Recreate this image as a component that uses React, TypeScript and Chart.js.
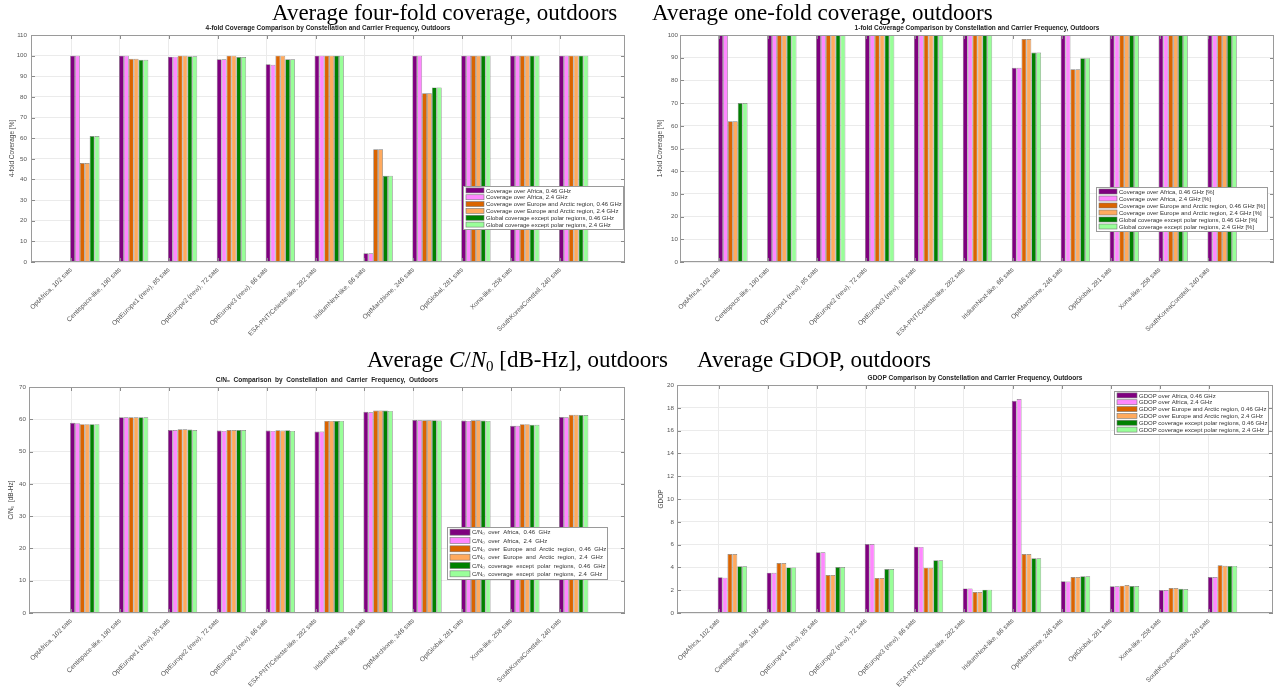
import React, { useEffect, useRef } from "react";
import { Chart, registerables } from "chart.js";

Chart.register(...registerables);

const FONT = "'Liberation Sans', Arial, Helvetica, sans-serif";
Chart.defaults.font.family = FONT;

// ---------------- data ----------------
const constellations = [
  "OptAfrica, 102 sats",
  "Centispace-like, 190 sats",
  "OptEurope1 (new), 85 sats",
  "OptEurope2 (new), 72 sats",
  "OptEurope3 (new), 66 sats",
  "ESA-PNT/Celeste-like, 282 sats",
  "IridiumNext-like, 66 sats",
  "OptMarchione, 246 sats",
  "OptGlobal, 281 sats",
  "Xona-like, 258 sats",
  "SouthKoreaConstell, 240 sats",
];

const seriesColors = ["#800080", "#FF88FF", "#DA6400", "#FFAA5E", "#008000", "#99FF99"];

// 4-fold coverage [%]
const fourAfrica046 = [100, 100, 99.5, 98.2, 95.8, 100, 4.2, 100, 100, 100, 100];
const fourAfrica24 = [100, 100, 99.5, 98.2, 95.6, 100, 4.2, 100, 100, 100, 100];
const fourEurope046 = [48, 98.5, 100, 100, 100, 100, 54.6, 81.8, 100, 100, 100];
const fourEurope24 = [48, 98.5, 100, 100, 100, 100, 54.6, 81.8, 100, 100, 100];
const fourGlobal046 = [61, 98, 99.7, 99.3, 98.2, 100, 41.8, 84.6, 100, 100, 100];
const fourGlobal24 = [61, 98, 99.7, 99.3, 98.2, 100, 41.8, 84.6, 100, 100, 100];

// 1-fold coverage [%]
const oneAfrica046 = [100, 100, 100, 100, 100, 100, 85.6, 100, 100, 100, 100];
const oneAfrica24 = [100, 100, 100, 100, 100, 100, 85.6, 100, 100, 100, 100];
const oneEurope046 = [62, 100, 100, 100, 100, 100, 98.2, 84.9, 100, 100, 100];
const oneEurope24 = [62, 100, 100, 100, 100, 100, 98.2, 84.9, 100, 100, 100];
const oneGlobal046 = [70, 100, 100, 100, 100, 100, 92.3, 89.8, 100, 100, 100];
const oneGlobal24 = [70, 100, 100, 100, 100, 100, 92.3, 89.8, 100, 100, 100];

// C/N0 [dB-Hz]
const cnAfrica046 = [58.9, 60.6, 56.7, 56.5, 56.5, 56.2, 62.3, 59.8, 59.6, 58.0, 60.7];
const cnAfrica24 = [58.8, 60.6, 56.7, 56.4, 56.4, 56.2, 62.2, 59.7, 59.5, 58.0, 60.6];
const cnEurope046 = [58.5, 60.6, 56.9, 56.7, 56.6, 59.5, 62.7, 59.7, 59.7, 58.5, 61.4];
const cnEurope24 = [58.5, 60.6, 56.9, 56.7, 56.5, 59.5, 62.7, 59.7, 59.7, 58.5, 61.4];
const cnGlobal046 = [58.5, 60.6, 56.8, 56.7, 56.6, 59.5, 62.7, 59.7, 59.6, 58.3, 61.3];
const cnGlobal24 = [58.5, 60.6, 56.7, 56.7, 56.4, 59.5, 62.6, 59.6, 59.5, 58.3, 61.3];

// GDOP
const gdAfrica046 = [3.13, 3.54, 5.32, 6.05, 5.82, 2.16, 18.62, 2.78, 2.34, 2.02, 3.16];
const gdAfrica24 = [3.1, 3.52, 5.32, 6.05, 5.8, 2.16, 18.77, 2.76, 2.34, 2.02, 3.16];
const gdEurope046 = [5.18, 4.39, 3.33, 3.07, 3.98, 1.84, 5.18, 3.16, 2.4, 2.19, 4.18];
const gdEurope24 = [5.18, 4.39, 3.33, 3.07, 3.96, 1.84, 5.18, 3.16, 2.46, 2.19, 4.15];
const gdGlobal046 = [4.1, 4.0, 4.03, 3.86, 4.62, 2.05, 4.8, 3.22, 2.37, 2.13, 4.12];
const gdGlobal24 = [4.1, 4.0, 4.03, 3.86, 4.62, 2.05, 4.8, 3.22, 2.37, 2.11, 4.13];

const fourLabels = [
  "Coverage over Africa, 0.46 GHz",
  "Coverage over Africa, 2.4 GHz",
  "Coverage over Europe and Arctic region, 0.46 GHz",
  "Coverage over Europe and Arctic region, 2.4 GHz",
  "Global coverage except polar regions, 0.46 GHz",
  "Global coverage except polar regions, 2.4 GHz",
];
const oneLabels = [
  "Coverage over Africa, 0.46 GHz [%]",
  "Coverage over Africa, 2.4 GHz [%]",
  "Coverage over Europe and Arctic region, 0.46 GHz [%]",
  "Coverage over Europe and Arctic region, 2.4 GHz [%]",
  "Global coverage except polar regions, 0.46 GHz [%]",
  "Global coverage except polar regions, 2.4 GHz [%]",
];
const cnLabels = [
  "C/N\u2080  over  Africa,  0.46  GHz",
  "C/N\u2080  over  Africa,  2.4  GHz",
  "C/N\u2080  over  Europe  and  Arctic  region,  0.46  GHz",
  "C/N\u2080  over  Europe  and  Arctic  region,  2.4  GHz",
  "C/N\u2080  coverage  except  polar  regions,  0.46  GHz",
  "C/N\u2080  coverage  except  polar  regions,  2.4  GHz",
];
const gdLabels = [
  "GDOP over Africa, 0.46 GHz",
  "GDOP over Africa, 2.4 GHz",
  "GDOP over Europe and Arctic region, 0.46 GHz",
  "GDOP over Europe and Arctic region, 2.4 GHz",
  "GDOP coverage except polar regions, 0.46 GHz",
  "GDOP coverage except polar regions, 2.4 GHz",
];

// ---------------- plugins ----------------
const framePlugin = {
  id: "frame",
  afterDatasetsDraw(chart: any) {
    const { ctx, chartArea: a, scales } = chart;
    ctx.save();
    ctx.strokeStyle = "#8a8a8a";
    ctx.lineWidth = 1;
    ctx.beginPath();
    const xs = scales.x;
    for (let i = 0; i < xs.ticks.length; i++) {
      const px = Math.round(xs.getPixelForTick(i)) + 0.5;
      ctx.moveTo(px, a.bottom);
      ctx.lineTo(px, a.bottom - 4);
      ctx.moveTo(px, a.top);
      ctx.lineTo(px, a.top + 4);
    }
    const ys = scales.y;
    for (let j = 0; j < ys.ticks.length; j++) {
      const py = Math.round(ys.getPixelForTick(j)) + 0.5;
      ctx.moveTo(a.left, py);
      ctx.lineTo(a.left + 4, py);
      ctx.moveTo(a.right, py);
      ctx.lineTo(a.right - 4, py);
    }
    ctx.stroke();
    ctx.strokeStyle = "#9a9a9a";
    ctx.strokeRect(Math.round(a.left) + 0.5, Math.round(a.top) + 0.5, Math.round(a.right - a.left) - 1, Math.round(a.bottom - a.top) - 1);
    ctx.restore();
  },
  afterDraw(chart: any, _args: any, opts: any) {
    const { ctx, chartArea: a } = chart;
    ctx.save();
    ctx.font = `bold 6.5px ${FONT}`;
    ctx.fillStyle = "#222";
    ctx.textAlign = "center";
    ctx.textBaseline = "middle";
    ctx.fillText(opts.text, (a.left + a.right) / 2, a.top - 7);
    ctx.restore();
  },
};

const boxLegendPlugin = {
  id: "boxLegend",
  afterDraw(chart: any, _args: any, o: any) {
    const { ctx } = chart;
    const ds = chart.data.datasets;
    const rowH = (o.h - 2) / ds.length;
    ctx.save();
    ctx.fillStyle = "#ffffff";
    ctx.fillRect(o.x, o.y, o.w, o.h);
    ctx.strokeStyle = "#9a9a9a";
    ctx.lineWidth = 1;
    ctx.strokeRect(o.x + 0.5, o.y + 0.5, o.w, o.h);
    ctx.font = `${o.fontSize}px ${FONT}`;
    ctx.textBaseline = "middle";
    ctx.textAlign = "left";
    ds.forEach((d: any, i: number) => {
      const cy = o.y + 1 + rowH * i + rowH / 2;
      const sx = o.x + 3;
      ctx.fillStyle = d.backgroundColor;
      ctx.fillRect(sx, cy - o.swH / 2, o.swW, o.swH);
      ctx.strokeStyle = "#777";
      ctx.lineWidth = 0.6;
      ctx.strokeRect(sx, cy - o.swH / 2, o.swW, o.swH);
      ctx.fillStyle = "#333";
      ctx.fillText(d.label, sx + o.swW + 2, cy + 0.5);
    });
    ctx.restore();
  },
};

// ---------------- chart specs ----------------
type Spec = {
  box: { left: number; top: number; width: number; height: number };
  pad: { left: number; top: number; right: number };
  yAxisW: number;
  xAxisH: number;
  xMin: number;
  xMax: number;
  yMax: number;
  yStep: number;
  yTickPad: number;
  title: string;
  yTitle: string;
  labels: string[];
  values: number[][];
  legend: { x: number; y: number; w: number; h: number; fontSize: number; swW: number; swH: number };
};

const specs: Spec[] = [
  {
    box: { left: 0, top: 20, width: 640, height: 330 },
    pad: { left: 8, top: 15, right: 15 },
    yAxisW: 23,
    xAxisH: 88,
    xMin: -0.82,
    xMax: 11.33,
    yMax: 110,
    yStep: 10,
    yTickPad: 4,
    title: "4-fold Coverage Comparison by Constellation and Carrier Frequency, Outdoors",
    yTitle: "4-fold Coverage [%]",
    labels: fourLabels,
    values: [fourAfrica046, fourAfrica24, fourEurope046, fourEurope24, fourGlobal046, fourGlobal24],
    legend: { x: 463, y: 166, w: 160, h: 43, fontSize: 6, swW: 18, swH: 5 },
  },
  {
    box: { left: 640, top: 20, width: 645, height: 330 },
    pad: { left: 16, top: 15, right: 11 },
    yAxisW: 24,
    xAxisH: 88,
    xMin: -0.8,
    xMax: 11.34,
    yMax: 100,
    yStep: 10,
    yTickPad: 2,
    title: "1-fold Coverage Comparison by Constellation and Carrier Frequency, Outdoors",
    yTitle: "1-fold Coverage [%]",
    labels: oneLabels,
    values: [oneAfrica046, oneAfrica24, oneEurope046, oneEurope24, oneGlobal046, oneGlobal24],
    legend: { x: 456, y: 167, w: 171, h: 44, fontSize: 6, swW: 18, swH: 5 },
  },
  {
    box: { left: 0, top: 372, width: 640, height: 320 },
    pad: { left: 7, top: 15, right: 15 },
    yAxisW: 22,
    xAxisH: 79,
    xMin: -0.86,
    xMax: 11.33,
    yMax: 70,
    yStep: 10,
    yTickPad: 3,
    title: "C/N\u2080  Comparison  by  Constellation  and  Carrier  Frequency,  Outdoors",
    yTitle: "C/N\u2080  [dB-Hz]",
    labels: cnLabels,
    values: [cnAfrica046, cnAfrica24, cnEurope046, cnEurope24, cnGlobal046, cnGlobal24],
    legend: { x: 447, y: 155, w: 160, h: 52, fontSize: 6, swW: 20, swH: 6 },
  },
  {
    box: { left: 640, top: 372, width: 645, height: 320 },
    pad: { left: 17, top: 13, right: 12 },
    yAxisW: 20,
    xAxisH: 79,
    xMin: -0.85,
    xMax: 11.31,
    yMax: 20,
    yStep: 2,
    yTickPad: 3,
    title: "GDOP Comparison by Constellation and Carrier Frequency, Outdoors",
    yTitle: "GDOP",
    labels: gdLabels,
    values: [gdAfrica046, gdAfrica24, gdEurope046, gdEurope24, gdGlobal046, gdGlobal24],
    legend: { x: 474, y: 19, w: 154, h: 43, fontSize: 6, swW: 20, swH: 5 },
  },
];

const GROUP_SHIFT = 0.28;

function ChartPanel({ spec }: { spec: Spec }) {
  const ref = useRef<HTMLCanvasElement | null>(null);
  useEffect(() => {
    if (!ref.current) return;
    const datasets = spec.values.map((vals, k) => ({
      label: spec.labels[k],
      data: vals.map((v, i) => ({ x: i + GROUP_SHIFT, y: v })),
      backgroundColor: seriesColors[k],
      borderColor: "#7d7d7d",
      borderWidth: 0.7,
      categoryPercentage: 0.6,
      barPercentage: 1,
    }));
    const chart = new Chart(ref.current, {
      type: "bar",
      data: { datasets },
      plugins: [framePlugin, boxLegendPlugin],
      options: {
        animation: false,
        responsive: false,
        maintainAspectRatio: false,
        devicePixelRatio: 1,
        layout: { padding: { left: spec.pad.left, top: spec.pad.top, right: spec.pad.right, bottom: 0 } },
        plugins: {
          legend: { display: false },
          tooltip: { enabled: false },
          title: { display: false },
          frame: { text: spec.title },
          boxLegend: spec.legend,
        } as any,
        scales: {
          x: {
            type: "linear",
            min: spec.xMin,
            max: spec.xMax,
            bounds: "data",
            offset: false,
            afterBuildTicks: (s: any) => {
              s.ticks = constellations.map((_, i) => ({ value: i }));
            },
            afterFit: (s: any) => {
              s.height = spec.xAxisH;
            },
            ticks: {
              autoSkip: false,
              minRotation: 45,
              maxRotation: 45,
              padding: 4,
              color: "#555",
              font: { size: 6.6, family: FONT },
              callback: (v: any) => constellations[v] ?? "",
            },
            grid: { color: "#ebebeb", drawTicks: false, offset: false },
            border: { display: false },
          } as any,
          y: {
            min: 0,
            max: spec.yMax,
            afterFit: (s: any) => {
              s.width = spec.yAxisW;
            },
            ticks: {
              stepSize: spec.yStep,
              padding: spec.yTickPad,
              color: "#555",
              font: { size: 6.2, family: FONT },
            },
            grid: { color: "#ebebeb", drawTicks: false },
            border: { display: false },
            title: {
              display: true,
              text: spec.yTitle,
              color: "#444",
              padding: 0,
              font: { size: 6.5, family: FONT },
            },
          } as any,
        },
      },
    });
    return () => chart.destroy();
  }, [spec]);
  return (
    <canvas
      ref={ref}
      width={spec.box.width}
      height={spec.box.height}
      style={{
        position: "absolute",
        left: spec.box.left,
        top: spec.box.top,
        width: spec.box.width,
        height: spec.box.height,
      }}
    />
  );
}

const captionStyle: React.CSSProperties = {
  position: "absolute",
  fontFamily: "'Liberation Serif', 'Times New Roman', serif",
  fontSize: 23,
  lineHeight: "23px",
  whiteSpace: "nowrap",
  color: "#000",
};

export default function App() {
  return (
    <div
      style={{
        position: "fixed",
        left: 0,
        top: 0,
        width: 1285,
        height: 692,
        background: "#fff",
        overflow: "hidden",
      }}
    >
      {specs.map((s, i) => (
        <ChartPanel key={i} spec={s} />
      ))}
      <div style={{ ...captionStyle, left: 272, top: 1 }}>Average four-fold coverage, outdoors</div>
      <div style={{ ...captionStyle, left: 652, top: 1 }}>Average one-fold coverage, outdoors</div>
      <div style={{ ...captionStyle, left: 367, top: 348 }}>
        Average <i>C</i>/<i>N</i>
        <sub style={{ fontSize: 15, verticalAlign: "-4px", lineHeight: 0 }}>0</sub> [dB-Hz], outdoors
      </div>
      <div style={{ ...captionStyle, left: 697, top: 348 }}>Average GDOP, outdoors</div>
    </div>
  );
}
